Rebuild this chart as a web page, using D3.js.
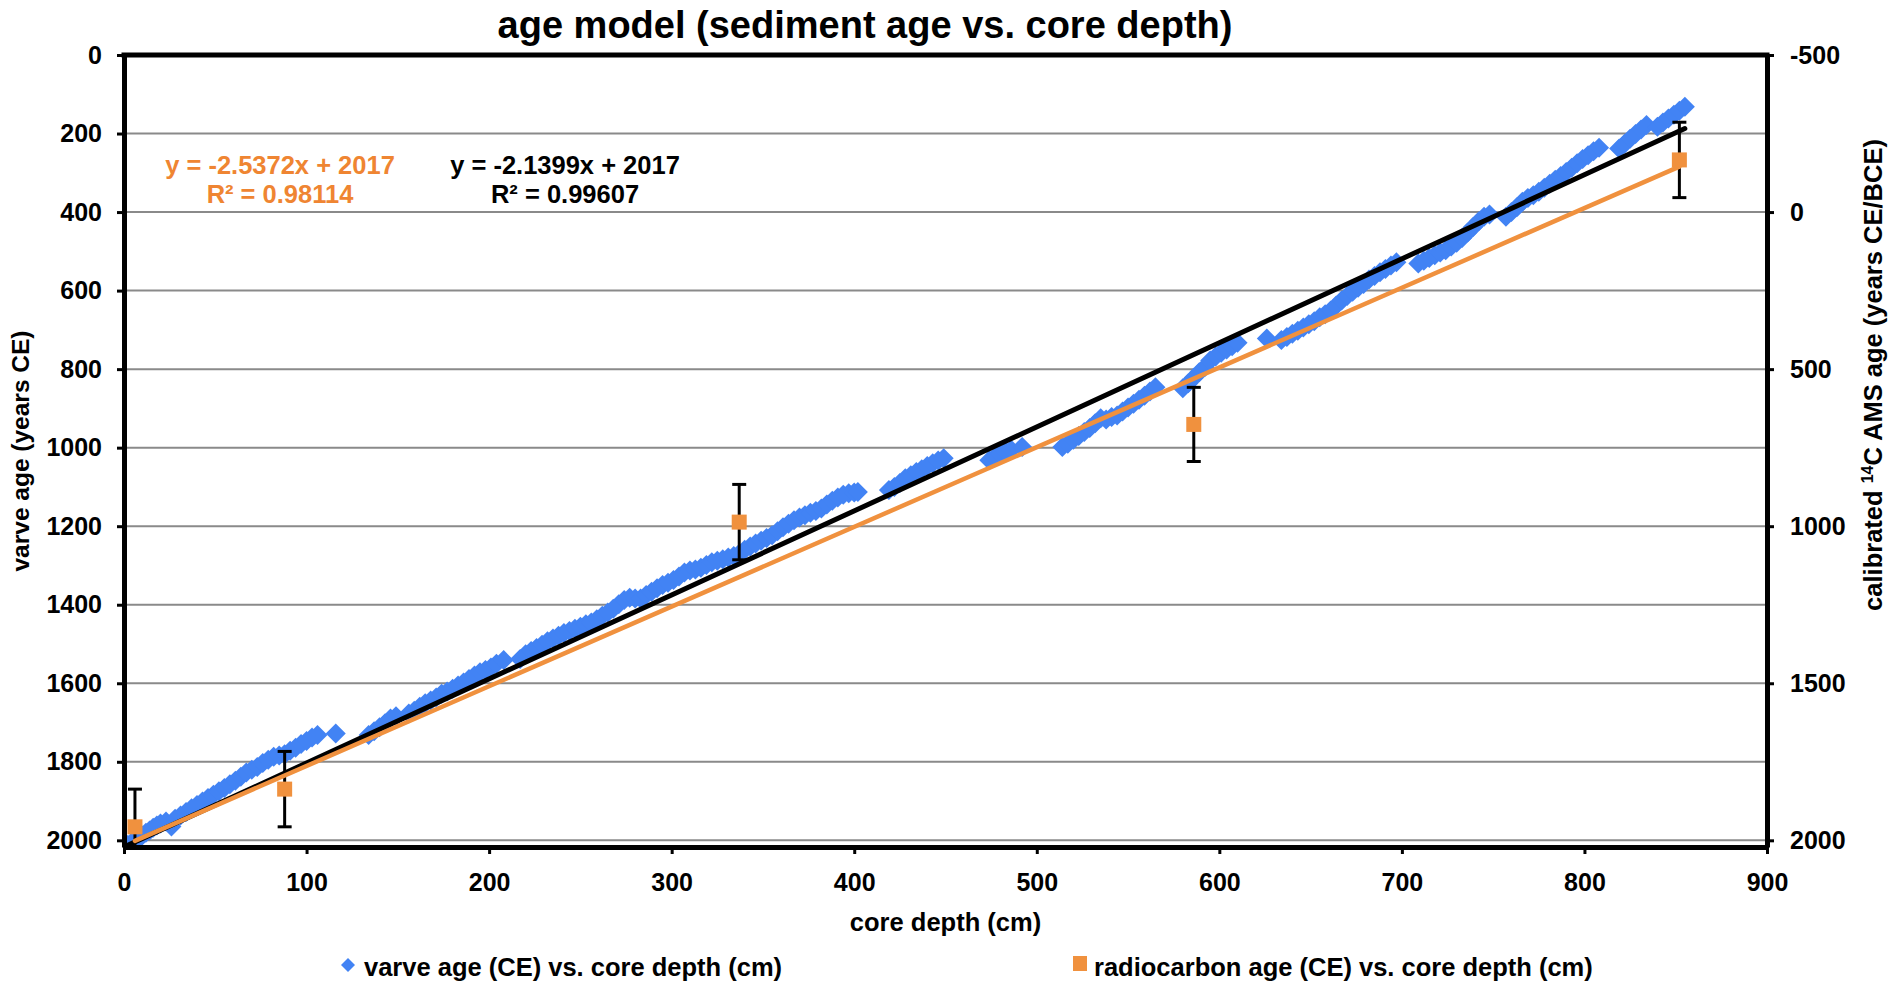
<!DOCTYPE html>
<html>
<head>
<meta charset="utf-8">
<script src="https://cdn.jsdelivr.net/npm/d3@7"></script>
<style>
  html, body { margin: 0; padding: 0; background: #fff; }
  svg { display: block; }
  text { font-family: "Liberation Sans", Arial, Helvetica, sans-serif; font-weight: bold; }
</style>
</head>
<body>
<svg id="chart" width="1889" height="986"></svg>
<script>
// ---------------- data ----------------
const depthTicks = [0, 100, 200, 300, 400, 500, 600, 700, 800, 900];
const ageTicks = [0, 200, 400, 600, 800, 1000, 1200, 1400, 1600, 1800, 2000];
const rcTicks = [-500, 0, 500, 1000, 1500, 2000];

// varve age (CE) vs. core depth (cm)
const varveDepth = [
  0, 2, 4, 6, 8, 10, 12, 14, 16, 18, 20, 23, 26, 28, 31, 34, 37, 40, 43, 46, 49, 52, 55, 58, 61, 64, 67, 70, 73, 76, 79, 82, 85, 88, 91, 94, 97, 100, 103, 106,
  116,
  134, 137, 140, 143, 146, 149, 156, 159, 162, 165, 168, 171, 174, 177, 180, 183, 186, 189, 192, 195, 198, 201, 204, 208,
  217, 220, 223, 226, 229, 232, 235, 238, 241, 244, 247, 250, 253, 256, 259, 262, 265, 268, 271, 274, 277, 280, 283, 286, 289, 292, 295, 298,
  301, 304, 307, 310, 313, 316, 319, 322, 325, 328, 331, 334, 337, 340, 343, 346, 349, 352, 355, 358, 361, 364, 367, 370, 373, 376, 379, 382,
  385, 388, 391, 394, 397, 400, 402,
  419, 422, 425, 428, 431, 434, 437, 440, 443, 446, 449,
  474, 477, 480, 483, 486,
  492,
  514, 517, 520, 523, 526, 529, 532, 535, 538, 541, 544, 547, 550, 553, 556, 559, 562, 565,
  580, 583, 586, 589, 592, 595, 598, 601, 604, 607, 610,
  626,
  634, 637, 640, 643, 646, 649, 652, 655, 658, 661, 664, 667, 670, 673, 676, 679, 682, 685, 688, 691, 694, 697,
  709, 712, 715, 718, 721, 724, 727, 730, 733, 736, 739, 742, 745, 748,
  757, 760, 763, 766, 769, 772, 775, 778, 781, 784, 787, 790, 793, 796, 799, 802, 805, 808,
  819, 822, 825, 828, 831, 834,
  840, 843, 846, 849, 852, 855
];
const varveAge = [
  2017, 2012, 2006, 2000, 1995, 1988, 1981, 1975, 1968, 1962, 1957, 1952, 1965, 1945, 1937, 1928, 1918, 1910, 1901, 1892, 1884, 1875, 1867, 1857, 1848, 1838, 1827, 1820, 1813, 1803, 1795, 1787, 1784, 1781, 1772, 1764, 1755, 1747, 1738, 1732,
  1728,
  1732, 1722, 1712, 1702, 1690, 1684, 1677, 1670, 1660, 1651, 1644, 1636, 1627, 1621, 1614, 1606, 1598, 1589, 1580, 1572, 1566, 1560, 1550, 1541,
  1538, 1526, 1518, 1510, 1502, 1493, 1486, 1479, 1472, 1467, 1461, 1456, 1450, 1445, 1437, 1428, 1420, 1410, 1399, 1388, 1382, 1384, 1384, 1375, 1367, 1358, 1350, 1344,
  1337, 1328, 1318, 1313, 1310, 1306, 1299, 1292, 1288, 1284, 1280, 1276, 1270, 1260, 1252, 1244, 1237, 1230, 1223, 1213, 1203, 1194, 1185, 1178, 1172, 1166, 1161, 1155,
  1145, 1135, 1127, 1120, 1116, 1114, 1113,
  1108, 1100, 1090, 1078, 1070, 1062, 1055, 1047, 1040, 1033, 1027,
  1032, 1024, 1016, 1010, 1005,
  998,
  998, 990, 980, 970, 960, 950, 938, 925, 928, 922, 918, 908, 898, 888, 878, 868, 857, 846,
  849, 836, 822, 808, 795, 778, 768, 758, 750, 742, 733,
  722,
  726, 718, 710, 702, 694, 686, 678, 668, 660, 651, 638, 625, 614, 603, 593, 583, 572, 563, 553, 545, 536, 528,
  531, 524, 517, 510, 503, 497, 488, 478, 466, 452, 438, 424, 412, 406,
  412, 400, 388, 374, 364, 357, 348, 338, 328, 318, 308, 298, 287, 276, 265, 255, 245, 236,
  238, 226, 213, 201, 190, 178,
  183, 172, 162, 152, 142, 132
];

// radiocarbon age (CE) vs. core depth (cm), secondary axis, with error
const rcDepth = [6, 88, 337, 586, 852];
const rcAge = [1957, 1837, 987, 676, -166];
const rcError = [120, 120, 120, 118, 120];

// trendline coefficients as printed on the chart
const varveFit = [-2.1399, 2017];
const rcFit = [-2.5372, 2017];
const varveR2 = "0.99607";
const rcR2 = "0.98114";

const seriesNames = ["varve age (CE) vs. core depth (cm)", "radiocarbon age (CE) vs. core depth (cm)"];

// ---------------- drawing ----------------
const BLUE = "#4283f4";
const ORANGE = "#f0913e";
const ORANGE_TXT = "#ef8532";
const FONT = '"Liberation Sans", Arial, Helvetica, sans-serif';

const svg = d3.select("#chart");
const L = 124, R = 1767, T = 55, B = 847;

const x = d3.scaleLinear().domain([0, 900]).range([L, R]);
const yL = d3.scaleLinear().domain([0, 2017]).range([T, B]);
const yR = d3.scaleLinear().domain([-500, 2021.25]).range([T, B]);

svg.append("defs").append("clipPath").attr("id", "plotClip")
  .append("rect").attr("x", L).attr("y", T).attr("width", R - L).attr("height", B - T);

// gridlines
svg.append("g").selectAll("line").data(ageTicks.filter(d => d > 0)).join("line")
  .attr("x1", L).attr("x2", R)
  .attr("y1", d => yL(d)).attr("y2", d => yL(d))
  .attr("stroke", "#8a8a8a").attr("stroke-width", 2);

const plot = svg.append("g").attr("clip-path", "url(#plotClip)");

// varve diamonds
const varve = varveDepth.map((d, i) => ({ depth: d, age: varveAge[i] }));
plot.append("g").selectAll("path").data(varve).join("path")
  .attr("d", "M0,-10L10,0L0,10L-10,0Z")
  .attr("transform", d => `translate(${x(d.depth)},${yL(d.age)})`)
  .attr("fill", BLUE);

// radiocarbon error bars
const rc = rcDepth.map((d, i) => ({ depth: d, age: rcAge[i], err: rcError[i] }));
const eb = plot.append("g").attr("stroke", "#000").attr("stroke-width", 3);
rc.forEach(d => {
  const cx = x(d.depth), y1 = yR(d.age - d.err), y2 = yR(d.age + d.err);
  eb.append("line").attr("x1", cx).attr("x2", cx).attr("y1", y1).attr("y2", y2);
  eb.append("line").attr("x1", cx - 7).attr("x2", cx + 7).attr("y1", y1).attr("y2", y1);
  eb.append("line").attr("x1", cx - 7).attr("x2", cx + 7).attr("y1", y2).attr("y2", y2);
});

// radiocarbon squares
plot.append("g").selectAll("rect").data(rc).join("rect")
  .attr("x", d => x(d.depth) - 7.5).attr("y", d => yR(d.age) - 7.5)
  .attr("width", 15).attr("height", 15)
  .attr("fill", ORANGE);

// trendlines
const vx = d3.extent(varveDepth);
plot.append("line")
  .attr("x1", x(vx[0])).attr("y1", yL(varveFit[0] * vx[0] + varveFit[1]))
  .attr("x2", x(vx[1])).attr("y2", yL(varveFit[0] * vx[1] + varveFit[1]))
  .attr("stroke", "#000").attr("stroke-width", 5).attr("stroke-linecap", "round");
const rx = d3.extent(rcDepth);
plot.append("line")
  .attr("x1", x(rx[0])).attr("y1", yR(rcFit[0] * rx[0] + rcFit[1]))
  .attr("x2", x(rx[1])).attr("y2", yR(rcFit[0] * rx[1] + rcFit[1]))
  .attr("stroke", ORANGE).attr("stroke-width", 4.5).attr("stroke-linecap", "round");

// frame top
svg.append("line").attr("x1", L - 2.5).attr("x2", R + 2.5).attr("y1", T).attr("y2", T)
  .attr("stroke", "#000").attr("stroke-width", 5);

// axes
const plain = d => String(d).replace("\u2212", "-");
function styleAxis(g) {
  g.select(".domain").attr("stroke", "#000").attr("stroke-width", 5);
  g.selectAll(".tick line").attr("stroke", "#000").attr("stroke-width", 3);
  g.selectAll(".tick text").attr("fill", "#000")
    .attr("font-size", 25).attr("font-weight", "bold").attr("font-family", FONT);
}
svg.append("g").attr("transform", `translate(${L},0)`)
  .call(d3.axisLeft(yL).tickValues(ageTicks).tickFormat(plain).tickSize(7).tickSizeOuter(0).tickPadding(15))
  .call(styleAxis);
svg.append("g").attr("transform", `translate(${R},0)`)
  .call(d3.axisRight(yR).tickValues(rcTicks).tickFormat(plain).tickSize(7).tickSizeOuter(0).tickPadding(16))
  .call(styleAxis);
svg.append("g").attr("transform", `translate(0,${B})`)
  .call(d3.axisBottom(x).tickValues(depthTicks).tickFormat(plain).tickSize(7).tickSizeOuter(0).tickPadding(19))
  .call(styleAxis);

// titles
svg.append("text").attr("x", 865).attr("y", 38).attr("text-anchor", "middle")
  .attr("font-size", 38).text("age model (sediment age vs. core depth)");

svg.append("text").attr("x", 945.5).attr("y", 931).attr("text-anchor", "middle")
  .attr("font-size", 25.5).text("core depth (cm)");

svg.append("text").attr("transform", "translate(29,451) rotate(-90)")
  .attr("text-anchor", "middle").attr("font-size", 24.5).text("varve age (years CE)");

const rt = svg.append("text").attr("transform", "translate(1882,375) rotate(-90)")
  .attr("text-anchor", "middle").attr("font-size", 25.5);
rt.append("tspan").text("calibrated ");
rt.append("tspan").attr("font-size", 16).attr("dy", -9).text("14");
rt.append("tspan").attr("dy", 9).text("C AMS age (years CE/BCE)");

// trendline equations
const fmtEq = f => `y = ${f[0].toFixed(4)}x + ${f[1]}`;
svg.append("text").attr("x", 280).attr("y", 174).attr("text-anchor", "middle")
  .attr("font-size", 25.5).attr("fill", ORANGE_TXT).text(fmtEq(rcFit));
svg.append("text").attr("x", 280).attr("y", 203).attr("text-anchor", "middle")
  .attr("font-size", 25.5).attr("fill", ORANGE_TXT).text(`R² = ${rcR2}`);
svg.append("text").attr("x", 565).attr("y", 174).attr("text-anchor", "middle")
  .attr("font-size", 25.5).attr("fill", "#000").text(fmtEq(varveFit));
svg.append("text").attr("x", 565).attr("y", 203).attr("text-anchor", "middle")
  .attr("font-size", 25.5).attr("fill", "#000").text(`R² = ${varveR2}`);

// legend
const lg = svg.append("g");
lg.append("path").attr("d", "M0,-7L7,0L0,7L-7,0Z")
  .attr("transform", "translate(348,965)").attr("fill", BLUE);
lg.append("text").attr("x", 364).attr("y", 976).attr("font-size", 25.5).text(seriesNames[0]);
lg.append("rect").attr("x", 1073).attr("y", 956).attr("width", 14).attr("height", 15).attr("fill", ORANGE);
lg.append("text").attr("x", 1094).attr("y", 976).attr("font-size", 25.5).text(seriesNames[1]);
</script>
</body>
</html>
